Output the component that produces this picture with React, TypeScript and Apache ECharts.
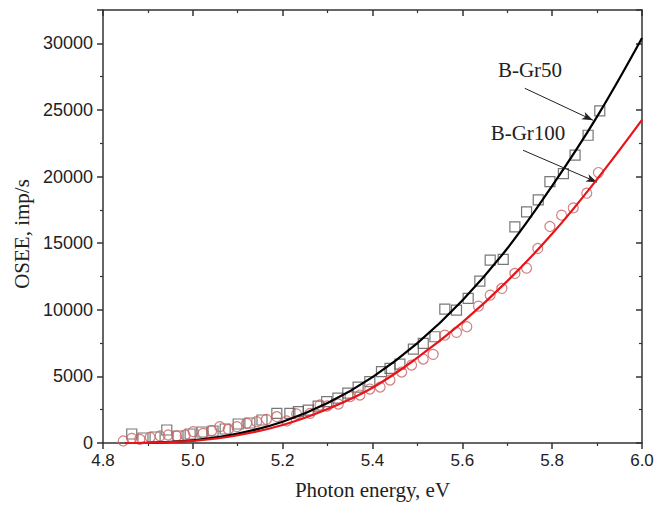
import React, { useEffect, useRef } from "react";
import * as echarts from "echarts";

// B-Gr50 measured points (photon energy eV, OSEE imp/s)
const gr50X = [4.864, 4.889, 4.916, 4.942, 4.967, 4.994, 5.02, 5.045, 5.072, 5.101, 5.127, 5.154, 5.187, 5.216, 5.235, 5.257, 5.279, 5.298, 5.323, 5.345, 5.368, 5.394, 5.42, 5.439, 5.461, 5.491, 5.513, 5.539, 5.561, 5.587, 5.613, 5.639, 5.662, 5.691, 5.717, 5.743, 5.769, 5.795, 5.825, 5.851, 5.88, 5.906];
const gr50Y = [675, 375, 450, 975, 525, 675, 825, 900, 1050, 1425, 1500, 1725, 2225, 2225, 2350, 2475, 2775, 3100, 3375, 3750, 4200, 4600, 5350, 5600, 5925, 7050, 7475, 7975, 10050, 9975, 10850, 12150, 13725, 13775, 16225, 17350, 18250, 19625, 20225, 21600, 23100, 24925];

// B-Gr100 measured points
const gr100X = [4.845, 4.864, 4.882, 4.905, 4.927, 4.945, 4.964, 4.983, 5.001, 5.023, 5.042, 5.06, 5.079, 5.098, 5.12, 5.142, 5.164, 5.187, 5.209, 5.231, 5.261, 5.283, 5.299, 5.324, 5.35, 5.372, 5.394, 5.417, 5.439, 5.465, 5.487, 5.513, 5.535, 5.561, 5.587, 5.61, 5.636, 5.662, 5.688, 5.717, 5.743, 5.768, 5.795, 5.821, 5.847, 5.877, 5.903];
const gr100Y = [150, 350, 275, 425, 525, 600, 525, 600, 850, 725, 925, 1225, 1025, 1225, 1475, 1600, 1775, 1975, 1650, 2175, 2225, 2850, 2775, 2925, 3475, 3600, 4050, 4200, 4725, 5325, 5850, 6300, 6650, 8100, 8300, 8725, 10275, 11100, 11600, 12725, 13125, 14600, 16250, 17100, 17650, 18750, 20300];

// Fit curves
const fitX = [4.85, 4.9, 5.0, 5.1, 5.2, 5.3, 5.4, 5.5, 5.6, 5.7, 5.8, 5.9, 6.0];
const fit50 = [0, 20, 200, 700, 1600, 3000, 4950, 7500, 10700, 14600, 19300, 24500, 30400];
const fit100 = [0, 15, 160, 580, 1350, 2550, 4150, 6400, 9050, 12150, 15700, 19800, 24250];

// Annotation arrows [fromX, fromY, toX, toY]
const arrow50 = [5.739, 26625, 5.891, 24225];
const arrow100 = [5.735, 21975, 5.9, 19575];
const label50 = "B-Gr50";
const label100 = "B-Gr100";

const xTitle = "Photon energy, eV";
const yTitle = "OSEE, imp/s";

const zip = (a: number[], b: number[]) => a.map((v, i) => [v, b[i]]);

export default function App() {
  const ref = useRef<HTMLDivElement>(null);
  useEffect(() => {
    if (!ref.current) return;
    const chart = echarts.init(ref.current, null, { renderer: "svg" });
    const sans = "Liberation Sans, Arial, sans-serif";
    const serif = "Liberation Serif, Times New Roman, serif";
    const axisColor = "#333";
    chart.setOption({
      animation: false,
      backgroundColor: "#fff",
      grid: { left: 103, right: 17, top: 10, bottom: 70 },
      xAxis: [
        {
          type: "value",
          position: "bottom",
          min: 4.8,
          max: 6.0,
          interval: 0.2,
          name: xTitle,
          nameLocation: "middle",
          nameGap: 36,
          nameTextStyle: { fontFamily: serif, fontSize: 21, color: "#222" },
          axisLine: { show: true, onZero: false, lineStyle: { color: axisColor, width: 1.5 } },
          axisTick: { show: true, inside: false, length: 6, lineStyle: { color: axisColor, width: 1.5 } },
          minorTick: { show: true, splitNumber: 2, length: 3, lineStyle: { color: axisColor, width: 1.2 } },
          axisLabel: { fontFamily: sans, fontSize: 17, color: "#222", margin: 9, formatter: (v: number) => v.toFixed(1) },
          splitLine: { show: false },
        },
        {
          type: "value",
          position: "top",
          min: 4.8,
          max: 6.0,
          interval: 0.2,
          axisLine: { show: true, onZero: false, lineStyle: { color: axisColor, width: 1.5 } },
          axisTick: { show: true, inside: true, length: 6, lineStyle: { color: axisColor, width: 1.5 } },
          minorTick: { show: true, splitNumber: 2, length: 3, lineStyle: { color: axisColor, width: 1.2 } },
          axisLabel: { show: false },
          splitLine: { show: false },
        },
      ],
      yAxis: [
        {
          type: "value",
          position: "left",
          min: 0,
          max: 32500,
          interval: 5000,
          axisLine: { show: true, onZero: false, lineStyle: { color: axisColor, width: 1.5 } },
          axisTick: { show: true, inside: false, length: 6, lineStyle: { color: axisColor, width: 1.5 } },
          minorTick: { show: true, splitNumber: 2, length: 3, lineStyle: { color: axisColor, width: 1.2 } },
          axisLabel: { fontFamily: sans, fontSize: 18, color: "#222", margin: 10, showMaxLabel: false, formatter: (v: number) => String(v) },
          splitLine: { show: false },
        },
        {
          type: "value",
          position: "right",
          min: 0,
          max: 32500,
          interval: 5000,
          axisLine: { show: true, onZero: false, lineStyle: { color: axisColor, width: 1.5 } },
          axisTick: { show: true, inside: true, length: 6, lineStyle: { color: axisColor, width: 1.5 } },
          minorTick: { show: true, splitNumber: 2, length: 3, lineStyle: { color: axisColor, width: 1.2 } },
          axisLabel: { show: false },
          splitLine: { show: false },
        },
      ],
      series: [
        {
          type: "scatter",
          name: label50,
          data: zip(gr50X, gr50Y),
          symbol: "rect",
          symbolSize: 10,
          itemStyle: { color: "transparent", borderColor: "#555", borderWidth: 1.2 },
          z: 2,
        },
        {
          type: "scatter",
          name: label100,
          data: zip(gr100X, gr100Y),
          symbol: "circle",
          symbolSize: 10,
          itemStyle: { color: "transparent", borderColor: "#c96060", borderWidth: 1.2 },
          z: 3,
        },
        {
          type: "line",
          data: zip(fitX, fit50),
          smooth: 0.4,
          showSymbol: false,
          lineStyle: { color: "#000", width: 2.2 },
          z: 4,
          markLine: {
            silent: true,
            symbol: ["none", "arrow"],
            symbolSize: [6, 11],
            label: { show: false },
            lineStyle: { color: "#222", width: 1, type: "solid" },
            data: [
              [{ coord: [arrow50[0], arrow50[1]] }, { coord: [arrow50[2], arrow50[3]] }],
              [{ coord: [arrow100[0], arrow100[1]] }, { coord: [arrow100[2], arrow100[3]] }],
            ],
          },
        },
        {
          type: "line",
          data: zip(fitX, fit100),
          smooth: 0.4,
          showSymbol: false,
          lineStyle: { color: "#e8141a", width: 2.2 },
          z: 5,
        },
      ],
      graphic: [
        {
          type: "text",
          x: 22,
          y: 234,
          rotation: Math.PI / 2,
          style: { text: yTitle, font: `21px ${serif}`, fill: "#222", textAlign: "center", textVerticalAlign: "middle" },
        },
        {
          type: "text",
          x: 530,
          y: 70,
          style: { text: label50, font: `21px ${serif}`, fill: "#222", textAlign: "center", textVerticalAlign: "middle" },
        },
        {
          type: "text",
          x: 528,
          y: 133,
          style: { text: label100, font: `21px ${serif}`, fill: "#222", textAlign: "center", textVerticalAlign: "middle" },
        },
      ],
    });
    return () => chart.dispose();
  }, []);
  return <div ref={ref} style={{ position: "fixed", left: 0, top: 0, width: 659, height: 513 }} />;
}
